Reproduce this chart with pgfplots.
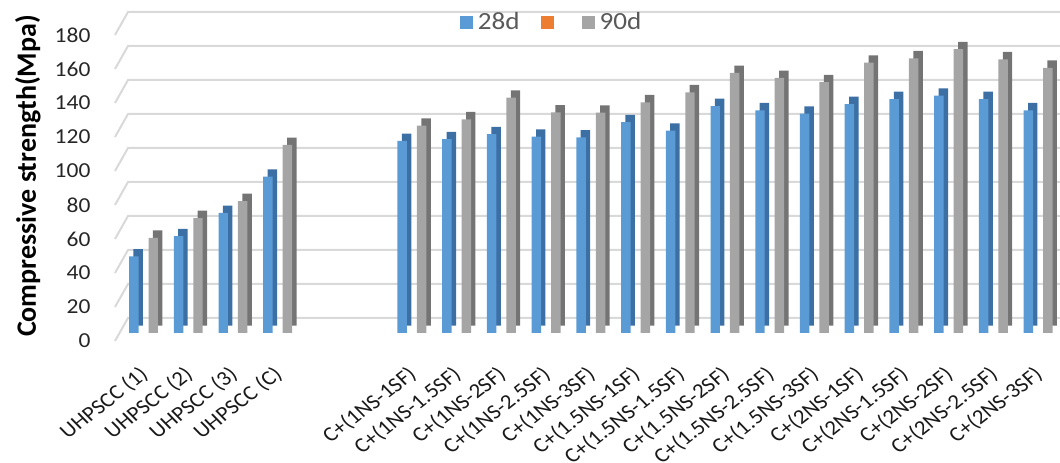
\documentclass[border=0pt]{standalone}
\usepackage{fontspec}
\setmainfont{Carlito}[FakeStretch=1.1]
\newfontfamily\labfont{Carlito}
\usepackage{pgfplots}
\pgfplotsset{compat=1.18}
\usepackage{pgfplotstable}
\definecolor{cblue}{HTML}{5B9BD5}
\definecolor{cbluedk}{HTML}{3C6FA3}
\definecolor{cgray}{HTML}{A5A5A5}
\definecolor{cgraydk}{HTML}{747474}
\definecolor{corange}{HTML}{ED7D31}
\definecolor{cgrid}{HTML}{D9D9D9}

\pgfplotstableread{
x d28 d90
0 45 56
1 57 67.6
2 70.6 77.6
3 92 110.6
6 113 122
7 114 125.7
8 117 138.4
9 115.5 129.8
10 115 129.6
11 124 135.7
12 119 141.6
13 133.5 153
14 131 150
15 129 147.5
16 134.7 159
17 137.6 161.6
18 139.6 167
19 137.6 161
20 131 156
}\data

\begin{document}
\begin{tikzpicture}
\begin{axis}[
  width=705pt, height=229.5pt, scale only axis,
  xmin=-0.526, xmax=20.49, ymin=0, ymax=180,
  ybar, bar width=7.1pt,
  clip=false,
  axis line style={draw=none},
  major tick length=0pt,
  ytick={0,20,...,180},
  xtick={0,1,2,3,6,7,...,20},
  xticklabels={UHPSCC (1),UHPSCC (2),UHPSCC (3),UHPSCC (C),C+(1NS-1SF),C+(1NS-1.5SF),C+(1NS-2SF),C+(1NS-2.5SF),C+(1NS-3SF),C+(1.5NS-1SF),C+(1.5NS-1.5SF),C+(1.5NS-2SF),C+(1.5NS-2.5SF),C+(1.5NS-3SF),C+(2NS-1SF),C+(2NS-1.5SF),C+(2NS-2SF),C+(2NS-2.5SF),C+(2NS-3SF)},
  xticklabel style={xshift=1pt, yshift=-29pt, xscale=1.12, rotate=41, anchor=east, inner sep=0pt, font=\labfont\fontsize{15.5}{15.5}\selectfont, text=black!90},
  yticklabel style={xshift=-22pt, yshift=-6pt, anchor=east, inner sep=0pt, font=\fontsize{16}{16}\selectfont, text=black!85},
  /pgf/number format/assume math mode=true,
  ylabel={Compressive strength(Mpa)},
  ylabel style={at={(axis description cs:-0.098,0.513)}, anchor=center, font=\labfont\bfseries\fontsize{21}{21}\selectfont, text=black},
  legend style={at={(axis description cs:0.458,1.016)}, anchor=center, draw=none, fill=none,
    legend columns=-1, font=\fontsize{18.5}{18.5}\selectfont, text=black!65,
    nodes={inner sep=0pt},
    /tikz/every odd column/.append style={column sep=3.75pt},
    /tikz/every even column/.append style={column sep=16pt}},
  legend image code/.code={\fill[#1] (0pt,-4.9pt) rectangle (9.75pt,4.9pt);},
]
\pgfplotsinvokeforeach{0,20,...,180}{
  \draw[cgrid, line width=1.5pt] ([xshift=-3.75pt,yshift=-6pt]axis cs:-0.526,#1) -- ([xshift=6pt,yshift=11.25pt]axis cs:-0.526,#1) -- ([yshift=11.25pt]axis cs:20.49,#1);
}
\coordinate (sw) at (rel axis cs:0,0);
\coordinate (ne) at (rel axis cs:1,1);
\addplot[forget plot, fill=cbluedk, draw=none, bar shift=-7.3pt, xshift=3.3pt, yshift=5.5pt] table[x=x,y=d28]{\data};
\addplot[forget plot, fill=cgraydk, draw=none, bar shift=7.3pt, xshift=3.3pt, yshift=5.5pt] table[x=x,y=d90]{\data};
\addplot[forget plot, fill=cblue, draw=none, bar shift=-7.3pt] table[x=x,y=d28]{\data};
\addplot[forget plot, fill=cgray, draw=none, bar shift=7.3pt] table[x=x,y=d90]{\data};
\addlegendimage{fill=cblue, draw=none}
\addlegendentry{28d}
\addlegendimage{fill=corange, draw=none}
\addlegendentry{}
\addlegendimage{fill=cgray, draw=none}
\addlegendentry{90d}
\end{axis}
\pgfresetboundingbox
\useasboundingbox ([xshift=-90pt,yshift=-97.5pt]sw) rectangle ([yshift=20.25pt]ne);
\end{tikzpicture}
\end{document}
